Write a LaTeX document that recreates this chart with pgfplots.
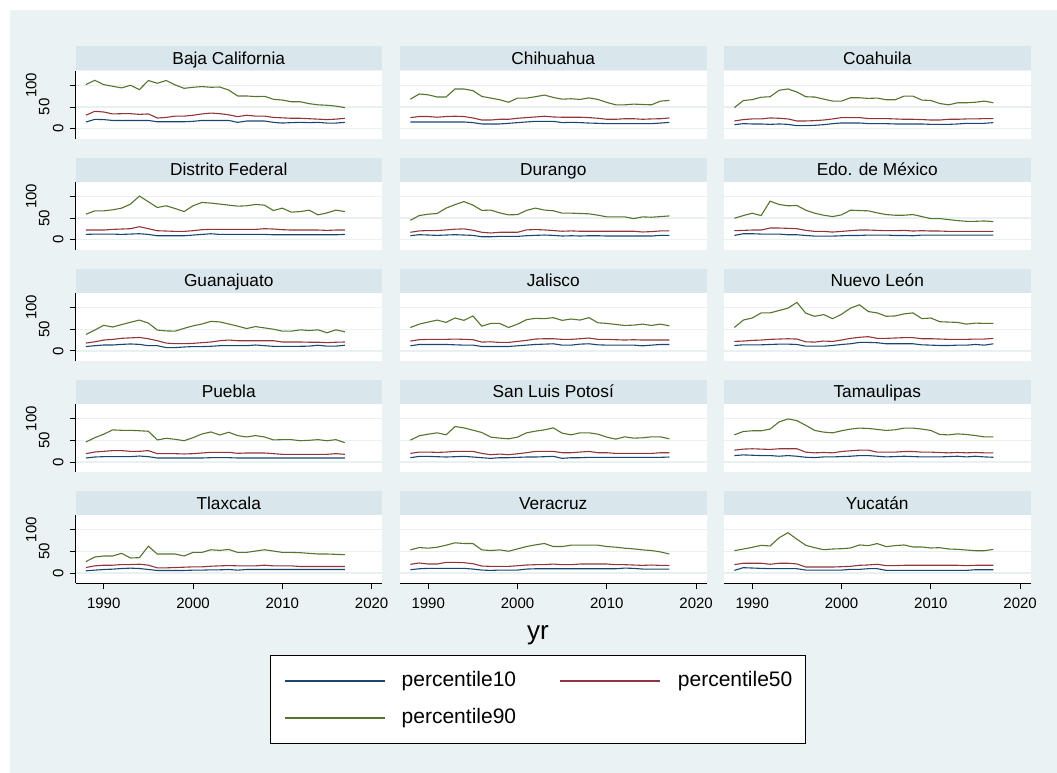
\documentclass[border=0pt]{standalone}
\usepackage{fontspec}
\setmainfont{Liberation Sans}
\usepackage{pgfplots}
\usepackage{pgfplotstable}
\pgfplotsset{compat=1.18}

\definecolor{bgc}{RGB}{234,242,243}
\definecolor{stripc}{RGB}{217,230,235}
\definecolor{gridc}{RGB}{232,240,242}
\definecolor{pten}{RGB}{26,71,111}
\definecolor{pfifty}{RGB}{144,53,59}
\definecolor{pninety}{RGB}{85,117,47}

% one table per state: year, 10th, 50th and 90th percentile
\pgfplotstableread{
yr p10 p50 p90
1988 15.4 31 101.5
1989 21.5 40 111.5
1990 21 38.5 101.5
1991 19 34 97.7
1992 19 34.6 94
1993 19 34.6 100
1994 19 33 90
1995 19 34 111
1996 16 24.6 104.6
1997 16 26 111
1998 16 29 100.8
1999 16 29 93
2000 17 31 95.4
2001 19 34 97
2002 19 36 95.4
2003 19 34.6 96
2004 19 32 89
2005 14.6 27.7 75.4
2006 17.7 31 75.4
2007 17.7 29 74
2008 17.7 29 74.6
2009 14.6 26 67.7
2010 13 25 66
2011 14 24 62
2012 14.6 24 62
2013 14 23 57.7
2014 14.6 22 55
2015 13 21 54
2016 13 22 52
2017 14.6 24 48.5
}\tBaja
\pgfplotstableread{
yr p10 p50 p90
1988 15.5 25.6 68
1989 15.5 28 80
1990 15.5 28 78
1991 15.5 26.4 73
1992 15.5 28 73
1993 15.5 28.7 91.5
1994 15.5 28 91.5
1995 14 24.8 87.6
1996 10.9 20 74.4
1997 10.9 20 70.5
1998 10.9 21.7 66.7
1999 12.4 21.7 61
2000 14 24 70.5
2001 15.5 25.6 70.5
2002 17 27 73.6
2003 17 28.7 77.5
2004 17 27 72
2005 14 26.4 68
2006 14.7 26.4 69
2007 14 26.4 67.4
2008 13 25.6 71
2009 12.4 24 67.4
2010 11.6 21.7 60.5
2011 11.6 21.7 55
2012 11.6 23 55
2013 11.6 23 56.6
2014 11.6 21.7 55.8
2015 11.6 22.5 55
2016 13 23 63.5
2017 14.7 24.8 65
}\tChih
\pgfplotstableread{
yr p10 p50 p90
1988 9.3 17.8 48.5
1989 11.6 21 64.7
1990 10.9 22.5 67
1991 10.9 22.5 72.5
1992 10 24.8 73.6
1993 10.9 24 88.4
1994 10 22.5 91.5
1995 7 17.8 84.5
1996 7 17.8 73.6
1997 7.8 18.6 72.9
1998 9.3 20 68.2
1999 11.6 22.5 63.6
2000 13.2 25.6 63.6
2001 13.2 25.6 71.3
2002 13.2 25.6 71.3
2003 11.6 23.3 69.8
2004 11.6 23.3 70.5
2005 11.6 23.3 66.7
2006 10.9 22.5 66.7
2007 10.9 21.7 75
2008 10.9 21.7 75
2009 10.9 21 65.9
2010 10 20 65
2011 10 20 58
2012 10 21.7 55
2013 10.9 21.7 59.7
2014 12.4 22.5 59.7
2015 12.4 22.5 61
2016 12.4 23.3 63.6
2017 14 23.3 59.7
}\tCoah
\pgfplotstableread{
yr p10 p50 p90
1988 12.4 22.5 58.9
1989 13.2 22.5 66.7
1990 13.2 22.5 66.7
1991 13.2 24 69
1992 12.4 24.8 72.9
1993 13.2 25.6 82.2
1994 14 30.2 100.8
1995 12.4 25.6 87.6
1996 9.3 20.9 74.4
1997 9.3 20.2 78.3
1998 9.3 19.4 72
1999 9.3 19.4 65
2000 10.9 21 78.3
2001 12.4 23.3 86
2002 14 24 84.5
2003 12.4 24 82.2
2004 12.4 24 79.8
2005 12.4 24 77.5
2006 12.4 24 78.3
2007 12.4 24 81.4
2008 12.4 25.6 79.8
2009 11.6 24.8 67.4
2010 11.6 23.3 72.9
2011 11.6 22.5 63.6
2012 11.6 22.5 65
2013 11.6 22.5 68.2
2014 11.6 22.5 57.4
2015 11.6 21.7 62
2016 11.6 22.5 68.2
2017 12.4 22.5 65
}\tDF
\pgfplotstableread{
yr p10 p50 p90
1988 9.4 17.3 44.9
1989 11.8 20.5 55.9
1990 11 21.3 59
1991 10.2 21.3 60.6
1992 11 22.8 73
1993 11.8 24.4 81
1994 11 25.2 88
1995 10.2 22 80
1996 7 17.3 67.7
1997 7 15.7 68.5
1998 7.9 17.3 62
1999 7.9 17.3 57.5
2000 7.9 17.3 58
2001 9.4 22.8 67.7
2002 10.2 23.6 73
2003 11 22.8 68.5
2004 10.2 21.3 66.9
2005 8.7 19.7 61.4
2006 9.4 20.5 61.4
2007 8.7 19.7 60.6
2008 9.4 19.7 59.8
2009 9.4 19.7 56.7
2010 8.7 19.7 52.8
2011 8.7 19.7 52.8
2012 8.7 19.7 52.8
2013 8.7 19.7 48.8
2014 8.7 18 52.8
2015 8.7 18.9 52
2016 10.2 20.5 53.5
2017 10.2 20.5 55
}\tDgo
\pgfplotstableread{
yr p10 p50 p90
1988 10 21 49.6
1989 14 21.7 55.8
1990 14 22.5 61.2
1991 13.2 22.5 55.8
1992 13.2 27.1 89
1993 13.2 27.1 81.4
1994 11.6 26.4 78.3
1995 11.6 25.6 79
1996 10 21.7 68.2
1997 8.5 19.4 61.2
1998 8.5 19.4 56.6
1999 8.5 17.8 53.5
2000 9.3 19.4 57.4
2001 10 21 68.2
2002 10 22.5 67.4
2003 10.9 22.5 66.7
2004 10.9 21.7 62
2005 10.9 21 58.1
2006 10 21 56.6
2007 10 21.7 56.6
2008 9.3 20.2 58.1
2009 10.9 21 53.5
2010 10.9 20.2 48.8
2011 10.9 20.2 48.8
2012 10.9 19.4 46.5
2013 10.9 19.4 44.2
2014 10.9 19.4 42.6
2015 10.9 19.4 42.6
2016 10.9 19.4 43.4
2017 10.9 19.4 41.9
}\tMex
\pgfplotstableread{
yr p10 p50 p90
1988 10 18 37.9
1989 12 21 48
1990 13.6 25 59
1991 13.6 26.5 55
1992 15 29 60.6
1993 16 30 66
1994 15 31 71
1995 12 28 64
1996 12 23.5 48
1997 7.6 18 46
1998 7.6 16.7 45.5
1999 9 16.7 52
2000 10 17.4 57.6
2001 10 19 62
2002 10.6 20.5 68
2003 12 23.5 66.7
2004 12 25 62
2005 12 23.5 57
2006 12 23.5 51.5
2007 13.6 23.5 56
2008 12 23.5 53
2009 10.6 23.5 50
2010 10.6 20.5 45.5
2011 10.6 20.5 45.5
2012 10.6 20.5 48.5
2013 11 20 47
2014 13 20 48.5
2015 11 19 41.7
2016 11 20 48.5
2017 13 20.5 44
}\tGto
\pgfplotstableread{
yr p10 p50 p90
1988 11.7 22.7 53.9
1989 14.8 25.8 61.7
1990 14.8 26.6 66.4
1991 14.8 26.6 71
1992 14.8 26.6 65.6
1993 14 27.3 75.8
1994 13.3 26.6 70.3
1995 13.3 25.8 80.5
1996 10.2 20.3 57
1997 10.2 21 63.3
1998 10.2 19.5 63.3
1999 10.2 19.5 53.9
2000 11.7 21.9 61.7
2001 13.3 24.2 71.9
2002 14.8 27.3 75
2003 15.6 28 74.2
2004 16.4 28 76.6
2005 13.3 26.6 70.3
2006 13.3 26.6 73.4
2007 15.6 28 71
2008 16.4 29.7 76.6
2009 14 26.6 64.8
2010 13.3 26.6 63.3
2011 13.3 25.8 60.9
2012 13.3 25 58.6
2013 13.3 25.8 59.4
2014 11.7 25 61.7
2015 13.3 25 58.6
2016 14.8 25 61.7
2017 14.8 25 57.8
}\tJal
\pgfplotstableread{
yr p10 p50 p90
1988 12.5 21.9 53.9
1989 14 22.7 71
1990 14 24.2 75.8
1991 14 25 87.5
1992 14.8 26.6 87.5
1993 15.6 27.3 93
1994 15.6 28 98.4
1995 14.8 27.3 111.7
1996 10.9 21 86.7
1997 10.9 20.3 79.7
1998 10.9 22.7 83.6
1999 12.5 21.9 74.2
2000 14.8 25 84.4
2001 16.4 28.9 98.4
2002 19.5 31.3 106.3
2003 19.5 32.8 90.6
2004 18.8 28.9 87.5
2005 16.4 28.9 79.7
2006 16.4 29.7 80.5
2007 16.4 30.5 85.2
2008 16.4 30.5 87.5
2009 14 28.1 74.2
2010 13.3 28.1 75.8
2011 12.5 27.3 67.2
2012 12.5 26.6 66.4
2013 13.3 26.6 65.6
2014 13.3 26.6 61.7
2015 14.8 27.3 64
2016 13.3 27.3 63.3
2017 16.4 28.9 63.3
}\tNL
\pgfplotstableread{
yr p10 p50 p90
1988 9.2 19.2 46
1989 11.5 23 56
1990 12.3 24.6 64
1991 12.3 26.2 74
1992 12.3 26.2 73
1993 12.3 24.6 73
1994 13.8 24.6 72
1995 12.3 26.2 70.8
1996 9.2 19.2 50.8
1997 9.2 19.2 54.6
1998 9.2 19.2 52.3
1999 9.2 18.5 49
2000 9.2 19.2 56
2001 9.2 20.8 64.6
2002 10 22.3 69.2
2003 10 22.3 62.3
2004 10 22.3 68.5
2005 9.2 20 60.8
2006 9.2 20.8 57.7
2007 9.2 20.8 60.8
2008 9.2 20.8 57.7
2009 9.2 19.2 50.8
2010 9.2 17.7 51.5
2011 9.2 17.7 51.5
2012 9.2 17.7 49
2013 9.2 17.7 50
2014 9.2 17.7 51.5
2015 9.2 17.7 49
2016 9.2 19.2 51.5
2017 9.2 17.7 44.6
}\tPue
\pgfplotstableread{
yr p10 p50 p90
1988 9.9 19.8 50.4
1989 13 22.9 60.3
1990 13 22.9 64.1
1991 12.2 22.1 67.2
1992 11.5 22.9 62.6
1993 12.2 24.4 81.7
1994 13 24.4 78.6
1995 11.5 24.4 73.3
1996 9.9 19.8 67.9
1997 8.4 16.8 57.3
1998 9.9 18.3 55
1999 9.9 16.8 53.4
2000 10.7 19 57.3
2001 11.5 21.4 67.2
2002 11.5 24.4 71
2003 12.2 24.4 74
2004 13 24.4 78.6
2005 8.4 21.4 66.4
2006 9.9 21.4 62.6
2007 9.9 22.9 67.2
2008 10.7 24.4 67.2
2009 10.7 21.4 64.1
2010 10.7 21.4 57.3
2011 10.7 19.8 52.7
2012 10.7 19.8 58
2013 10.7 19.8 55
2014 10.7 19.8 55.7
2015 10.7 19.8 58
2016 10.7 21.4 58
2017 11.5 21.4 53.4
}\tSLP
\pgfplotstableread{
yr p10 p50 p90
1988 14.8 27.3 62.5
1989 16.4 29.7 70.3
1990 15.6 30.5 71.9
1991 14.8 29.7 71.9
1992 14.8 28.9 75.8
1993 13.3 30.5 92.2
1994 14.8 30.5 99.2
1995 13.3 30.5 95.3
1996 10.9 22.7 84.4
1997 10.2 21.1 72.7
1998 11.7 21.9 68.8
1999 11.7 21.1 67.2
2000 12.5 24.2 71.9
2001 13.3 25.8 75.8
2002 14.8 27.3 78.1
2003 14.8 27.3 77.3
2004 13.3 22.7 75
2005 11.7 22.7 72.7
2006 12.5 22.7 74.2
2007 13.3 24.2 78.1
2008 12.5 24.2 78.1
2009 11.7 22.7 75.8
2010 11.7 22.7 72.7
2011 11.7 21.9 63.3
2012 12.5 21.1 62.5
2013 13.3 21.9 64.8
2014 11.7 21.1 63.3
2015 13.3 21.9 60.9
2016 11.7 21.1 57.8
2017 10.9 21.1 57.8
}\tTam
\pgfplotstableread{
yr p10 p50 p90
1988 5.3 12.9 26.5
1989 6.8 16.7 37
1990 8.3 18.2 39.4
1991 9.1 18.2 39.4
1992 10.6 19.7 45.5
1993 11.4 19.7 34.8
1994 10.6 20.5 35.6
1995 8.3 18.2 62
1996 6.1 12.1 43.9
1997 6.1 12.1 43.9
1998 6.1 12.9 43.9
1999 6.1 13.6 39.4
2000 6.8 14.4 47.7
2001 6.8 14.4 47.7
2002 7.6 15.9 53.8
2003 7.6 16.7 52.3
2004 8.3 17.4 54.5
2005 6.8 16.7 47.7
2006 8.3 16.7 47.7
2007 8.3 16.7 50.8
2008 8.3 18.2 53.8
2009 8.3 16.7 50.8
2010 8.3 16.7 47.7
2011 8.3 16.7 47.7
2012 8.3 15.2 47
2013 8.3 15.2 45.5
2014 8.3 15.2 44
2015 8.3 15.2 44
2016 8.3 15.2 43.2
2017 8.3 15.2 42.4
}\tTlax
\pgfplotstableread{
yr p10 p50 p90
1988 7.8 20.2 53.5
1989 10 23.3 58.9
1990 10.9 20.9 57.4
1991 10.9 20.9 59.7
1992 10.9 24.8 64.3
1993 10.9 24.8 69.8
1994 10.9 24 68.2
1995 9.3 21.7 68.2
1996 7 16.3 53.5
1997 6.2 15.5 52
1998 7 15.5 53.5
1999 7 15.5 50.4
2000 7 17 55.8
2001 9.3 18.6 61.2
2002 10 19.4 65
2003 10 19.4 68.2
2004 10 20.9 61.2
2005 10 19.4 61.2
2006 10 19.4 64.3
2007 10 20.9 64.3
2008 10 20.9 64.3
2009 10 20.9 64.3
2010 10 20.9 61.2
2011 10 19.4 59.7
2012 11.6 19.4 57.4
2013 10.9 18.6 55.8
2014 9.3 17.8 53.5
2015 9.3 18.6 52
2016 9.3 17.8 48.8
2017 9.3 17.8 44
}\tVer
\pgfplotstableread{
yr p10 p50 p90
1988 6.3 19.5 51.6
1989 12.5 22.7 55.5
1990 11.7 22.7 59.4
1991 10.9 22.7 64
1992 10.2 20.3 62.5
1993 10.2 22.7 81.2
1994 10.2 22.7 93
1995 10.2 21.1 78.1
1996 7 14 64
1997 7 14 58.6
1998 7 14 53.9
1999 7 14 55.5
2000 7 14.8 56.2
2001 8.6 15.6 57.8
2002 8.6 18 64.8
2003 10.2 18.8 63.3
2004 10.2 20.3 68
2005 6.3 17.2 60.9
2006 6.3 17.2 63.3
2007 6.3 18 64.8
2008 6.3 18 60.2
2009 6.3 18 60.2
2010 6.3 18 57.8
2011 6.3 18 58.6
2012 6.3 18 55.5
2013 6.3 18 54.7
2014 6.3 17.2 53.1
2015 7.8 18 51.6
2016 7.8 18 51.6
2017 7.8 18 54.7
}\tYuc

\pgfplotsset{
  panel/.style={
    scale only axis, width=306.5pt, height=68pt, anchor=south west,
    xmin=1986.84, xmax=2021.16, ymin=-23, ymax=133.6,
    axis x line*=bottom, axis y line*=left,
    axis line style={-, black, line width=0.9pt},
    axis background/.style={fill=white},
    ytick={0,50,100}, ymajorgrids, grid style={gridc, line width=1.3pt},
    tick align=outside, major tick length=6pt,
    tick style={black, line width=0.9pt},
    y axis line style={draw=none}, ytick style={draw=none}, yticklabels={,,},
    x axis line style={draw=none}, xtick=\empty,
    tick label style={font=\fontsize{15}{15}\selectfont},
    /pgf/number format/assume math mode=true,
    /pgf/number format/1000 sep={},
    every axis title shift=0pt,
    title style={at={(0.5,1)}, anchor=south,
      fill=stripc, minimum width=306.5pt, inner xsep=0pt, inner ysep=5.8pt,
      text height=12.4pt, text depth=0pt,
      font=\fontsize{17.3}{17.3}\selectfont},
    every axis plot/.append style={line width=1.1pt},
  },
  leftcol/.style={
    y axis line style={draw=black}, ytick style={draw=black},
    yticklabels={{\raisebox{6pt}{0}},{\raisebox{20pt}{50}},{\raisebox{33pt}{100}}},
    yticklabel style={rotate=90, anchor=south, inner sep=0pt},
  },
  bottomrow/.style={
    x axis line style={draw=black},
    xtick={1990,2000,2010,2020},
    xticklabel style={anchor=north, inner sep=0pt, yshift=-9pt},
  },
  legbox/.style={
    legend columns=2,
    legend entries={\hspace{15.7pt}percentile10\kern43pt,
                    \hspace{16.4pt}percentile50,
                    \hspace{15.7pt}percentile90},
    legend image code/.code={\draw[##1, line width=2.4pt] (0pt,0pt) -- (100pt,0pt);},
    legend style={at={(0.4502,-1.062)}, anchor=north,
      draw=black, line width=0.8pt, fill=white,
      inner xsep=12.8pt, inner ysep=15.4pt, row sep=17pt, column sep=0pt,
      font=\fontsize{21}{21}\selectfont,
      nodes={inner sep=0pt, text height=15pt, text depth=5pt}},
    legend cell align=left,
  },
}

% a panel: left edge, bottom edge, state, table, extra options
\newcommand{\panel}[5]{%
  \begin{axis}[panel, at={(#1pt,#2pt)}, title={#3}, #5]
    \addplot[pten] table[x=yr, y=p10] {#4};
    \addplot[pfifty] table[x=yr, y=p50] {#4};
    \addplot[pninety] table[x=yr, y=p90] {#4};
  \end{axis}}

\begin{document}
\begin{tikzpicture}[x=1pt, y=1pt]
  \fill[white] (0,0) rectangle (1057,773);
  \fill[bgc] (10,0) rectangle (1057,763);

  \panel{75.5}{634.3}{Baja California}{\tBaja}{leftcol}
  \panel{400}{634.3}{Chihuahua}{\tChih}{}
  \panel{724}{634.3}{Coahuila}{\tCoah}{}

  \panel{75.5}{523.2}{Distrito Federal}{\tDF}{leftcol}
  \panel{400}{523.2}{Durango}{\tDgo}{}
  \panel{724}{523.2}{Edo. de México}{\tMex}{}

  \panel{75.5}{412.1}{Guanajuato}{\tGto}{leftcol}
  \panel{400}{412.1}{Jalisco}{\tJal}{}
  \panel{724}{412.1}{Nuevo León}{\tNL}{}

  \panel{75.5}{301.0}{Puebla}{\tPue}{leftcol}
  \panel{400}{301.0}{San Luis Potosí}{\tSLP}{}
  \panel{724}{301.0}{Tamaulipas}{\tTam}{}

  \panel{75.5}{189.9}{Tlaxcala}{\tTlax}{leftcol, bottomrow}
  \panel{400}{189.9}{Veracruz}{\tVer}{bottomrow, legbox}
  \panel{724}{189.9}{Yucatán}{\tYuc}{bottomrow}

  \node[anchor=base, font=\fontsize{26}{26}\selectfont] at (538,133.5) {yr};
\end{tikzpicture}
\end{document}
